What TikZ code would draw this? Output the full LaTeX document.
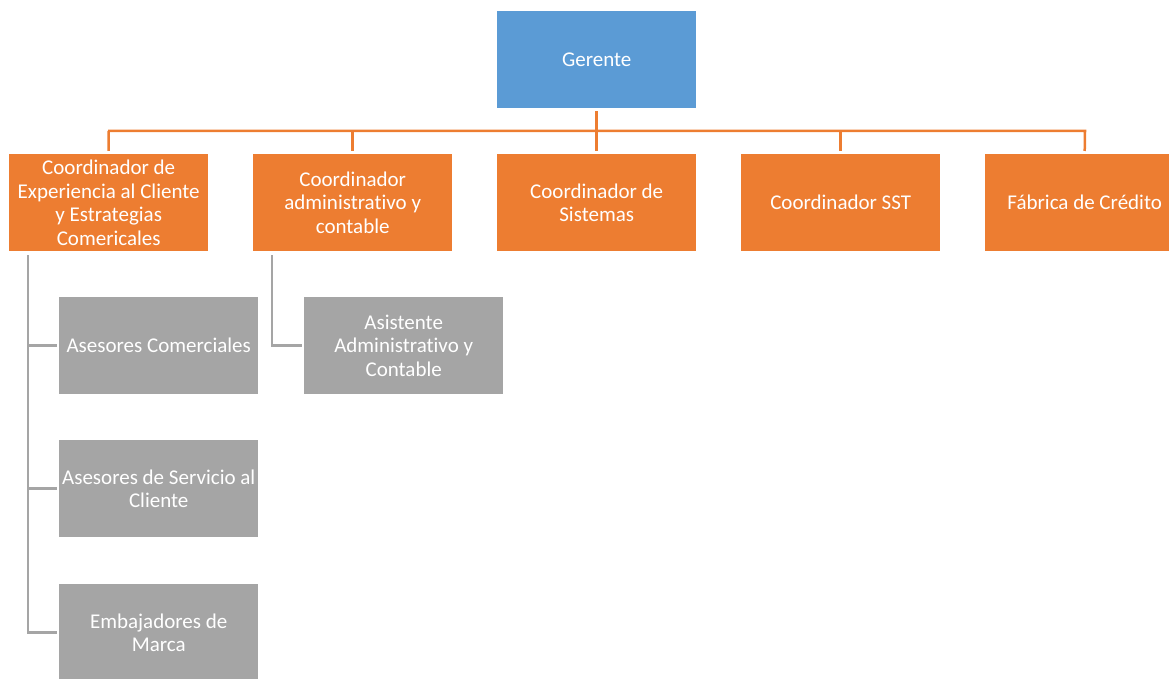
\documentclass[tikz,border=0pt]{standalone}
\usepackage{fontspec}
\setmainfont{Carlito}[Ligatures=NoCommon]
\definecolor{cblue}{HTML}{5B9BD5}
\definecolor{corange}{HTML}{ED7D31}
\definecolor{cgray}{HTML}{A5A5A5}
\begin{document}
\begin{tikzpicture}[x=1pt,y=-1pt,
  box/.style={minimum width=199pt,minimum height=97pt,inner xsep=0pt,inner ysep=2pt,text=white,
    font=\fontsize{21}{23.5}\selectfont,align=center,anchor=north west},
  topbox/.style={box,fill=cblue},
  obox/.style={box,fill=corange},
  gbox/.style={box,fill=cgray},
  oline/.style={draw=corange,line width=2.5pt},
  gline/.style={draw=cgray,line width=2.5pt}]
\useasboundingbox (0,0) rectangle (1169,679);
\clip (0,0) rectangle (1169,679);
\node[topbox] (g) at (497,11) {Gerente};
\node[obox] (c1) at (9,154) {Coordinador de\\Experiencia al Cliente\\y Estrategias\\Comericales};
\node[obox] (c2) at (253,154) {Coordinador\\administrativo y\\contable};
\node[obox] (c3) at (497,154) {Coordinador de\\Sistemas};
\node[obox] (c4) at (741,154) {Coordinador SST};
\node[obox] (c5) at (985,154) {Fábrica de Crédito};
\node[gbox] (a1) at (59,297) {Asesores Comerciales};
\node[gbox] (a2) at (59,440) {Asesores de Servicio al\\Cliente};
\node[gbox] (a3) at (59,584) {Embajadores de\\Marca};
\node[gbox] (b1) at (304,297) {Asistente\\Administrativo y\\Contable};
\coordinate (hl) at (108,131);
\coordinate (hr) at (1085,131);
\draw[oline] ([yshift=-3pt]g.south) -- ([yshift=3pt]c3.north);
\draw[oline] ([yshift=3pt]c1.north) |- (hl) -- (hr) -- ([yshift=3pt]c5.north);
\draw[oline] ([yshift=3pt]c2.north) -- (c2.north |- hl);
\draw[oline] ([yshift=3pt]c4.north) -- (c4.north |- hl);
\coordinate (v1) at (28,255);
\coordinate (v2) at (272,255);
\draw[gline] (v1) |- ([xshift=-2pt]a3.west);
\draw[gline] (v1 |- a1.west) -- ([xshift=-2pt]a1.west);
\draw[gline] (v1 |- a2.west) -- ([xshift=-2pt]a2.west);
\draw[gline] (v2) |- ([xshift=-2pt]b1.west);
\end{tikzpicture}
\end{document}
